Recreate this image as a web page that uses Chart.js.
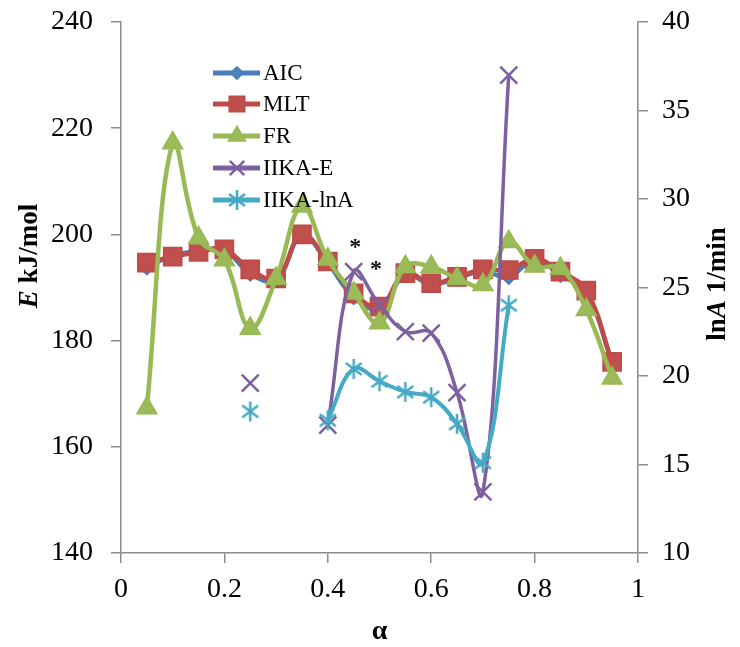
<!DOCTYPE html>
<html>
<head>
<meta charset="utf-8">
<script src="https://cdn.jsdelivr.net/npm/chart.js@4.4.0/dist/chart.umd.min.js"></script>
<style>
  html, body { margin: 0; padding: 0; background: #fff; }
  #wrap { width: 740px; height: 647px; position: relative; }
</style>
</head>
<body>
<div id="wrap"><canvas id="chart"></canvas></div>
<script>
// conversion degree
const ALPHA = [0.05, 0.1, 0.15, 0.2, 0.25, 0.3, 0.35, 0.4, 0.45, 0.5, 0.55, 0.6, 0.65, 0.7, 0.75, 0.8, 0.85, 0.9, 0.95];

// activation energy, kJ/mol
const AIC = [193.8, 196.0, 196.9, 197.0, 192.6, 191.4, 199.8, 194.6, 188.2, 186.0, 192.4, 190.6, 191.8, 193.0, 192.0, 195.2, 192.4, 189.0, 175.8];
const MLT = [194.7, 195.8, 196.7, 197.2, 193.4, 191.7, 200.0, 194.9, 188.9, 186.4, 192.7, 190.8, 192.0, 193.4, 193.3, 195.4, 193.0, 189.4, 176.0];
const FR = [167.3, 217.2, 199.3, 195.2, 182.3, 191.7, 205.3, 195.3, 188.9, 183.3, 193.9, 193.9, 191.7, 190.5, 198.6, 194.0, 193.6, 185.8, 172.9];
const IIKA_E = [null, null, null, null, 172.0, null, null, 164.1, 193.0, 186.7, 181.7, 181.4, 170.2, 151.5, 230.0, null, null, null, null];

// ln A, 1/min (right axis)
const IIKA_LNA = [null, null, null, null, 18.0, null, null, 17.5, 20.4, 19.7, 19.1, 18.8, 17.3, 15.1, 24.0, null, null, null, null];

// significance marks
const NOTE_X = [0.453, 0.493];
const NOTE_Y = [198.3, 194.2];

const SERIF = '"Liberation Serif", "Times New Roman", serif';
const AXIS_GREY = '#8c8c8c';

function pairs(values) {
  return ALPHA.map((a, i) => ({ x: a, y: values[i] }));
}

// Excel-style asterisk marker: vertical bar plus an X
function asteriskMarker(color, size, width) {
  const c = document.createElement('canvas');
  c.width = size;
  c.height = size;
  const g = c.getContext('2d');
  const m = size / 2;
  const r = size / 2 - 1;
  const d = r * 0.8;
  g.strokeStyle = color;
  g.lineWidth = width;
  g.beginPath();
  g.moveTo(m, m - r); g.lineTo(m, m + r);
  g.moveTo(m - d, m - d * 0.75); g.lineTo(m + d, m + d * 0.75);
  g.moveTo(m + d, m - d * 0.75); g.lineTo(m - d, m + d * 0.75);
  g.stroke();
  return c;
}

const starMarker = asteriskMarker('#46aac5', 22, 2.5);

const series = [
  { label: 'AIC', data: pairs(AIC), borderColor: '#4a7ebb', backgroundColor: '#4f81bd',
    pointStyle: 'rectRot', pointRadius: 7, borderWidth: 4.5, order: 5, yAxisID: 'y' },
  { label: 'MLT', data: pairs(MLT), borderColor: '#be4b48', backgroundColor: '#c0504d',
    pointStyle: 'rect', pointRadius: 12.5, borderWidth: 4.5, order: 4, yAxisID: 'y' },
  { label: 'FR', data: pairs(FR), borderColor: '#98b954', backgroundColor: '#9bbb59',
    pointStyle: 'triangle', pointRadius: 11, borderWidth: 4.5, order: 3, yAxisID: 'y' },
  { label: 'IIKA-E', data: pairs(IIKA_E), borderColor: '#7d60a0', backgroundColor: '#8064a2',
    pointStyle: 'crossRot', pointRadius: 12, borderWidth: 3.5, pointBorderWidth: 2.5, order: 2, yAxisID: 'y' },
  { label: 'IIKA-lnA', data: pairs(IIKA_LNA), borderColor: '#46aac5', backgroundColor: '#4bacc6',
    pointStyle: starMarker, pointRadius: 11, borderWidth: 4, order: 1, yAxisID: 'y2' },
];

// legend, axis titles and the asterisk notes
const decorations = {
  id: 'decorations',
  afterDraw(chart) {
    const ctx = chart.ctx;
    const xs = chart.scales.x;
    const ys = chart.scales.y;

    // legend inside the plot
    const rowY = [73, 104, 136, 168, 200];
    chart.data.datasets.forEach((ds, i) => {
      const y = rowY[i];
      ctx.save();
      ctx.strokeStyle = ds.borderColor;
      ctx.lineWidth = 5;
      ctx.beginPath();
      ctx.moveTo(213, y);
      ctx.lineTo(260, y);
      ctx.stroke();
      ctx.fillStyle = ds.backgroundColor;
      ctx.strokeStyle = ds.borderColor;
      ctx.lineWidth = ds.pointBorderWidth || 2;
      Chart.helpers.drawPoint(ctx, {
        pointStyle: ds.pointStyle,
        radius: ds.pointRadius * 0.85,
        rotation: 0,
        borderWidth: ds.pointBorderWidth || 2,
      }, 237, y);
      ctx.fillStyle = '#000';
      ctx.font = `23px ${SERIF}`;
      ctx.textBaseline = 'middle';
      ctx.textAlign = 'left';
      ctx.fillText(ds.label, 263, y + 1);
      ctx.restore();
    });

    // asterisks beside the IIKA-E maximum
    ctx.save();
    ctx.fillStyle = '#111';
    ctx.font = `bold 24px ${SERIF}`;
    ctx.textAlign = 'center';
    ctx.textBaseline = 'alphabetic';
    const m = ctx.measureText('*');
    const shift = (m.actualBoundingBoxAscent - m.actualBoundingBoxDescent) / 2;
    NOTE_X.forEach((v, i) => {
      ctx.fillText('*', xs.getPixelForValue(v), ys.getPixelForValue(NOTE_Y[i]) + shift);
    });
    ctx.restore();

    // rotated axis titles built from mixed runs
    function runs(parts, cx, cy, rot) {
      ctx.save();
      ctx.translate(cx, cy);
      ctx.rotate(rot);
      ctx.fillStyle = '#000';
      ctx.textBaseline = 'middle';
      ctx.textAlign = 'left';
      let total = 0;
      parts.forEach(p => { ctx.font = p.font; total += ctx.measureText(p.text).width; });
      let x = -total / 2;
      parts.forEach(p => {
        ctx.font = p.font;
        ctx.fillText(p.text, x, 0);
        x += ctx.measureText(p.text).width;
      });
      ctx.restore();
    }
    const b = `bold 27px ${SERIF}`;
    const bi = `italic bold 27px ${SERIF}`;
    runs([{ text: 'E', font: bi }, { text: ' kJ/mol', font: b }], 30, 256, -Math.PI / 2);
    runs([{ text: 'ln', font: b }, { text: 'A', font: bi }, { text: ' 1/min', font: b }], 718, 284, -Math.PI / 2);
    runs([{ text: 'α', font: `bold 28px ${SERIF}` }], (chart.chartArea.left + chart.chartArea.right) / 2, 632, 0);
  },
};

const tickFont = { family: SERIF, size: 28 };

// fixed axis band sizes; vertical label overhang is left to the outer padding
function fixWidth(w) {
  return s => { s.width = w; s.paddingTop = 0; s.paddingBottom = 0; };
}

new Chart(document.getElementById('chart'), {
  type: 'line',
  data: { datasets: series },
  options: {
    responsive: true,
    maintainAspectRatio: false,
    animation: false,
    layout: { padding: { top: 22, left: 0, right: 0, bottom: 0 } },
    elements: {
      line: { tension: 0.4, fill: false },
      point: { hoverRadius: 0 },
    },
    datasets: { line: { spanGaps: false, pointBorderWidth: 2 } },
    plugins: { legend: { display: false }, tooltip: { enabled: false } },
    scales: {
      x: {
        type: 'linear', min: 0, max: 1,
        ticks: {
          stepSize: 0.2, color: '#000', font: tickFont, padding: 10, maxRotation: 0,
          callback: v => String(Math.round(v * 10) / 10),
        },
        grid: { drawOnChartArea: false, tickLength: 10, color: AXIS_GREY, lineWidth: 1.5 },
        border: { color: AXIS_GREY, width: 1.5 },
        afterFit(s) { s.height = 94; s.paddingLeft = 0; s.paddingRight = 0; },
      },
      y: {
        position: 'left', min: 140, max: 240,
        ticks: { stepSize: 20, color: '#000', font: tickFont, padding: 18 },
        grid: { drawOnChartArea: false, tickLength: 10, color: AXIS_GREY, lineWidth: 1.5 },
        border: { color: AXIS_GREY, width: 1.5 },
        afterFit: fixWidth(121),
      },
      y2: {
        position: 'right', min: 10, max: 40,
        ticks: { stepSize: 5, color: '#000', font: tickFont, padding: 14 },
        grid: { drawOnChartArea: false, tickLength: 10, color: AXIS_GREY, lineWidth: 1.5 },
        border: { color: AXIS_GREY, width: 1.5 },
        afterFit: fixWidth(102),
      },
    },
  },
  plugins: [decorations],
});
</script>
</body>
</html>
